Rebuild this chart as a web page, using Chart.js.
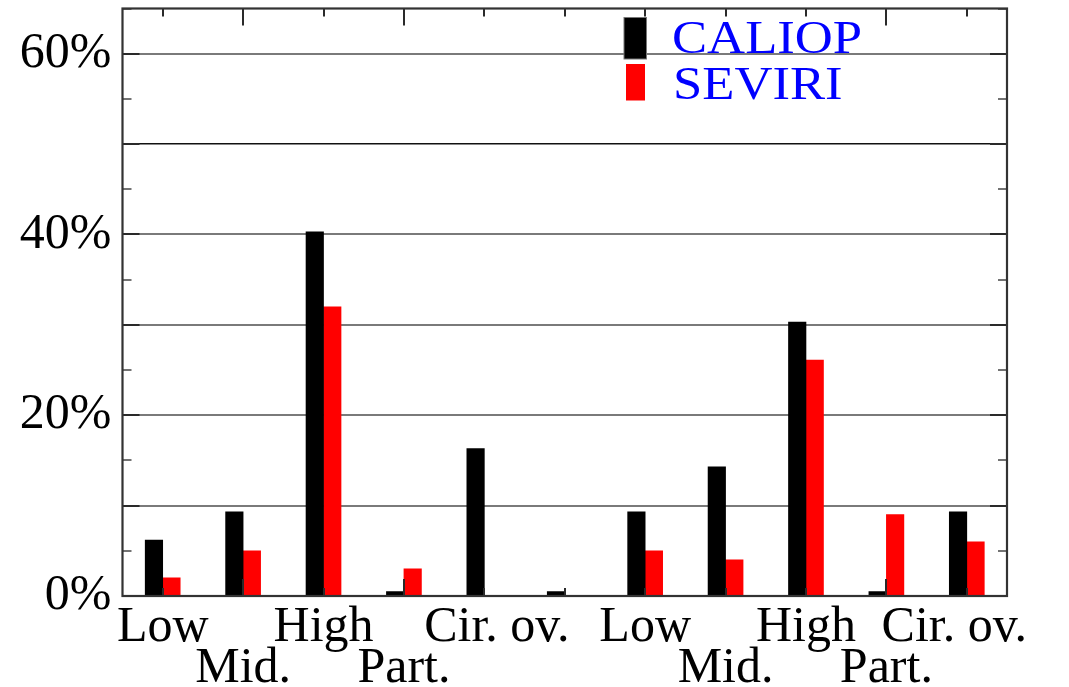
<!DOCTYPE html>
<html>
<head>
<meta charset="utf-8">
<script src="https://cdn.jsdelivr.net/npm/chart.js@4.4.0/dist/chart.umd.min.js"></script>
<style>
  html, body { margin: 0; padding: 0; background: #fff; }
</style>
</head>
<body>
<canvas id="cloudChart" width="1069" height="687"></canvas>
<script>
// cloud classes, two passes of the same five types
const categories = ['Low', 'Mid.', 'High', 'Part.', '  Cir. ov.', '', 'Low', 'Mid.', 'High', 'Part.', 'Cir. ov.  '];
const caliop = [6.2, 9.3, 40.3, 0.5, 16.3, 0.5, 9.3, 14.3, 30.3, 0.5, 9.3];
const seviri = [2.0, 5.0, 32.0, 3.0, 0, 0, 5.0, 4.0, 26.1, 9.0, 6.0];
const yTickLabels = [0, 20, 40, 60];
const longXTicks = [1, 3, 9];

const serif = "'Liberation Serif', 'Times New Roman', serif";

// frame + inward ticks on all four sides, drawn over the bars
const frameTicks = {
    id: 'frameTicks',
    afterDatasetsDraw(chart) {
        const { ctx, chartArea: a, scales: { x, y } } = chart;
        const seg = (x1, y1, x2, y2) => {
            ctx.beginPath();
            ctx.moveTo(x1, y1);
            ctx.lineTo(x2, y2);
            ctx.stroke();
        };
        ctx.save();
        y.ticks.forEach(t => {
            const py = Math.round(y.getPixelForValue(t.value));
            const major = t.value % 10 === 0;
            ctx.strokeStyle = major ? '#2a2a2a' : '#444';
            ctx.lineWidth = major ? 2 : 1.5;
            const len = major ? 17 : 9;
            seg(a.left, py, a.left + len, py);
            seg(a.right, py, a.right - len, py);
        });
        ctx.strokeStyle = '#2a2a2a';
        ctx.lineWidth = 2;
        categories.forEach((c, i) => {
            const px = Math.round(x.getPixelForValue(i));
            const len = longXTicks.includes(i) ? 17 : 8;
            seg(px, a.top, px, a.top + len);
            seg(px, a.bottom, px, a.bottom - len);
        });
        ctx.strokeStyle = '#333';
        ctx.lineWidth = 2.2;
        ctx.strokeRect(a.left, a.top, a.right - a.left, a.bottom - a.top);
        ctx.restore();
    }
};

// legend box in the upper middle
const boxLegend = {
    id: 'boxLegend',
    afterDraw(chart) {
        const ctx = chart.ctx;
        const ds = chart.data.datasets;
        ctx.save();
        ctx.fillStyle = ds[0].backgroundColor;
        ctx.fillRect(624, 17.5, 22.5, 41.5);
        ctx.strokeStyle = '#777';
        ctx.lineWidth = 1;
        ctx.strokeRect(624, 17.5, 22.5, 41.5);
        ctx.fillStyle = ds[1].backgroundColor;
        ctx.fillRect(626, 64, 19, 36.5);

        ctx.fillStyle = '#0000ff';
        ctx.font = '47px ' + serif;
        ctx.textBaseline = 'alphabetic';
        [[ds[0].label, 672, 52.5], [ds[1].label, 673, 99]].forEach(([txt, tx, ty]) => {
            ctx.save();
            ctx.translate(tx, ty);
            ctx.scale(1.12, 1);
            ctx.fillText(txt, 0, 0);
            ctx.restore();
        });
        ctx.restore();
    }
};

const ctx = document.getElementById('cloudChart').getContext('2d');
const chart = new Chart(ctx, {
    type: 'bar',
    data: {
        labels: categories,
        datasets: [
            {
                label: 'CALIOP',
                data: caliop,
                backgroundColor: '#000000',
                borderWidth: 0,
                barThickness: 17.5
            },
            {
                label: 'SEVIRI',
                data: seviri,
                backgroundColor: '#ff0000',
                borderWidth: 0,
                barThickness: 17.5
            }
        ]
    },
    options: {
        responsive: false,
        animation: false,
        layout: {
            padding: { top: 8.5, right: 62, left: 0, bottom: 0 }
        },
        plugins: {
            legend: { display: false },
            tooltip: { enabled: false }
        },
        scales: {
            x: {
                type: 'category',
                offset: true,
                grid: { display: false },
                border: { display: false },
                afterFit(scale) { scale.height = 91; },
                ticks: {
                    autoSkip: false,
                    maxRotation: 0,
                    minRotation: 0,
                    padding: 3.5,
                    color: '#000',
                    font: { family: serif, size: 50, lineHeight: 0.82 },
                    // alternate the labels between two rows
                    callback: (v, i) => i % 2 === 0 ? [categories[i]] : ['', categories[i]]
                }
            },
            y: {
                min: 0,
                max: 65,
                border: { display: false },
                afterFit(scale) {
                    scale.width = 122.5;
                    // let the plot reach the top edge; labels may overhang
                    scale.paddingTop = 0;
                    scale.paddingBottom = 0;
                },
                grid: {
                    drawTicks: false,
                    color: c => c.tick.value % 10 !== 0 ? 'rgba(0,0,0,0)'
                        : (c.tick.value === 50 ? '#111' : '#7a7a7a'),
                    lineWidth: c => c.tick.value === 50 ? 1.5 : 2
                },
                ticks: {
                    stepSize: 5,
                    autoSkip: false,
                    padding: 11,
                    color: '#000',
                    font: { family: serif, size: 50, lineHeight: 0.3 },
                    callback: v => yTickLabels.includes(v) ? v + '%' : ''
                }
            }
        }
    },
    plugins: [frameTicks, boxLegend]
});
</script>
</body>
</html>
